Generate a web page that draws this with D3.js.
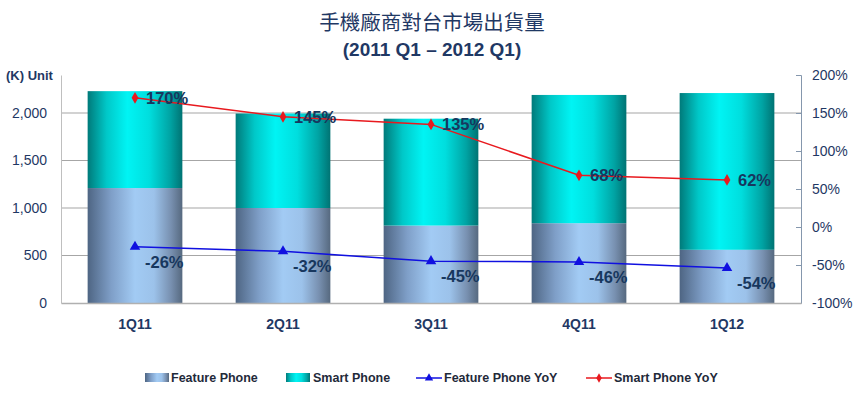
<!DOCTYPE html>
<html><head><meta charset="utf-8">
<script src="https://cdn.jsdelivr.net/npm/d3@7/dist/d3.min.js"></script>
<style>
body{margin:0;background:#fff;}
svg{display:block;font-family:"Liberation Sans",Arial,sans-serif;}
</style></head>
<body><svg id="c" width="864" height="397"></svg>
<script>
const categories = ["1Q11","2Q11","3Q11","4Q11","1Q12"];
const featurePhone = [1210, 1000, 815, 840, 560];
const smartPhone = [1020, 995, 1125, 1350, 1650];
const featureYoY = [-26, -32, -45, -46, -54];
const smartYoY = [170, 145, 135, 68, 62];
const leftTicks = [0, 500, 1000, 1500, 2000];
const rightTicks = [-100, -50, 0, 50, 100, 150, 200];

const svg = d3.select("#c");
const L = 61, R = 801, T = 75, B = 303;
const navy = "#1f3864";

const defs = svg.append("defs");
function grad(id, stops){
  const g = defs.append("linearGradient").attr("id", id).attr("x1","0").attr("x2","1").attr("y1","0").attr("y2","0");
  stops.forEach(s => g.append("stop").attr("offset", s[0]).attr("stop-color", s[1]));
}
grad("gF", [[0,"#4e6583"],[0.25,"#7f9fc8"],[0.5,"#a2cbf4"],[0.7,"#9cc2ea"],[0.88,"#7890b0"],[1,"#56697f"]]);
grad("gS", [[0,"#007a7a"],[0.2,"#00c8c8"],[0.42,"#00f4f4"],[0.65,"#00dede"],[0.87,"#00a4a4"],[1,"#007373"]]);

const x = d3.scaleBand().domain(categories).range([L, R]).paddingInner(0.36).paddingOuter(0.18);
const y = d3.scaleLinear().domain([0, 2400]).range([B, T]);
const y2 = d3.scaleLinear().domain([-100, 200]).range([B, T]);

// gridlines
svg.append("g").selectAll("line").data(leftTicks.filter(d => d > 0)).join("line")
  .attr("x1", L).attr("x2", R).attr("y1", d => y(d)).attr("y2", d => y(d))
  .attr("stroke", "#a6a6a6").attr("stroke-width", 1.2);

// bars
const stack = categories.map((c, i) => ({c, f: featurePhone[i], s: smartPhone[i]}));
svg.append("g").selectAll("rect").data(stack).join("rect")
  .attr("x", d => x(d.c)).attr("width", x.bandwidth())
  .attr("y", d => y(d.f)).attr("height", d => y(0) - y(d.f)).attr("fill", "url(#gF)");
svg.append("g").selectAll("rect").data(stack).join("rect")
  .attr("x", d => x(d.c)).attr("width", x.bandwidth())
  .attr("y", d => y(d.f + d.s)).attr("height", d => y(d.f) - y(d.f + d.s)).attr("fill", "url(#gS)");

// axes
const gl = svg.append("g").attr("transform", `translate(${L},0)`)
  .call(d3.axisLeft(y).tickValues(leftTicks).tickSize(0).tickPadding(14).tickFormat(d3.format(",")));
gl.select(".domain").attr("stroke", "#bfbfbf");
gl.selectAll("text").attr("font-size", 14).attr("fill", navy);

const gr = svg.append("g").attr("transform", `translate(${R},0)`)
  .call(d3.axisRight(y2).tickValues(rightTicks).tickSize(-5).tickPadding(11).tickFormat(d => d + "%"));
gr.select(".domain").attr("stroke", "#8597ad");
gr.selectAll(".tick line").attr("stroke", "#8597ad");
gr.selectAll("text").attr("font-size", 14).attr("fill", navy);

const gb = svg.append("g").attr("transform", `translate(0,${B})`)
  .call(d3.axisBottom(x).tickSize(0).tickPadding(16));
gb.select(".domain").attr("stroke", "#b0b0b0").attr("stroke-width", 1.5);
gb.selectAll("text").attr("font-size", 14).attr("font-weight", "bold").attr("fill", navy);

// lines
const cx = c => x(c) + x.bandwidth() / 2;
const lineF = d3.line().x((d, i) => cx(categories[i])).y(d => y2(d));
svg.append("path").datum(smartYoY).attr("d", lineF).attr("fill", "none").attr("stroke", "#e8191e").attr("stroke-width", 1.5);
svg.append("path").datum(featureYoY).attr("d", lineF).attr("fill", "none").attr("stroke", "#1010e0").attr("stroke-width", 1.5);

const diamond = d3.symbol().type(d3.symbolDiamond).size(40);
const tri = d3.symbol().type(d3.symbolTriangle).size(48);
svg.append("g").selectAll("path").data(smartYoY).join("path")
  .attr("d", diamond).attr("fill", "#e8191e")
  .attr("transform", (d, i) => `translate(${cx(categories[i])},${y2(d)})`);
svg.append("g").selectAll("path").data(featureYoY).join("path")
  .attr("d", tri).attr("fill", "#1010e0")
  .attr("transform", (d, i) => `translate(${cx(categories[i])},${y2(d)})`);

// data labels
svg.append("g").selectAll("text").data(smartYoY).join("text")
  .attr("x", (d, i) => cx(categories[i]) + 11).attr("y", d => y2(d) + 6)
  .attr("font-size", 16.5).attr("font-weight", "bold").attr("fill", "#17375e").text(d => d + "%");
svg.append("g").selectAll("text").data(featureYoY).join("text")
  .attr("x", (d, i) => cx(categories[i]) + 10).attr("y", d => y2(d) + 21)
  .attr("font-size", 16.5).attr("font-weight", "bold").attr("fill", "#17375e").text(d => d + "%");

// title
svg.append("text").attr("x", 432).attr("y", 30).attr("text-anchor", "middle")
  .attr("font-family", "'Noto Sans CJK TC','Noto Sans CJK SC',sans-serif").attr("font-size", 20.5).attr("fill", navy)
  .text("手機廠商對台市場出貨量");
svg.append("text").attr("x", 432).attr("y", 56).attr("text-anchor", "middle")
  .attr("font-size", 19).attr("font-weight", "bold").attr("fill", navy)
  .text("(2011 Q1 – 2012 Q1)");
svg.append("text").attr("x", 6).attr("y", 80).attr("font-size", 13).attr("font-weight", "bold").attr("fill", navy).text("(K) Unit");

// legend
const lg = svg.append("g").attr("font-size", 12.5).attr("font-weight", "bold").attr("fill", "#1f2a3a");
const ly = 378;
lg.append("rect").attr("x", 145).attr("y", ly - 5).attr("width", 24).attr("height", 9).attr("fill", "url(#gF)");
lg.append("text").attr("x", 171).attr("y", ly + 4).text("Feature Phone");
lg.append("rect").attr("x", 286).attr("y", ly - 5).attr("width", 24).attr("height", 9).attr("fill", "url(#gS)");
lg.append("text").attr("x", 313).attr("y", ly + 4).text("Smart Phone");
lg.append("line").attr("x1", 416).attr("x2", 442).attr("y1", ly).attr("y2", ly).attr("stroke", "#1010e0").attr("stroke-width", 1.5);
lg.append("path").attr("d", d3.symbol().type(d3.symbolTriangle).size(30)).attr("fill", "#1010e0").attr("transform", `translate(429,${ly})`);
lg.append("text").attr("x", 444).attr("y", ly + 4).text("Feature Phone YoY");
lg.append("line").attr("x1", 586).attr("x2", 612).attr("y1", ly).attr("y2", ly).attr("stroke", "#e8191e").attr("stroke-width", 1.5);
lg.append("path").attr("d", d3.symbol().type(d3.symbolDiamond).size(26)).attr("fill", "#e8191e").attr("transform", `translate(599,${ly})`);
lg.append("text").attr("x", 614).attr("y", ly + 4).text("Smart Phone YoY");
</script></body></html>
